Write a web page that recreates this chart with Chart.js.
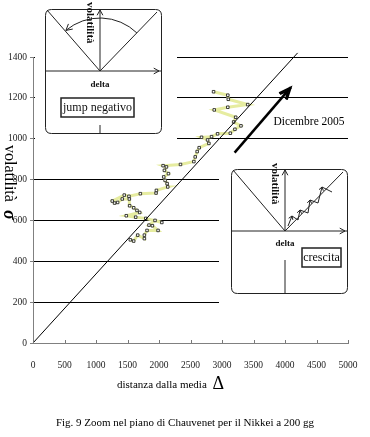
<!DOCTYPE html>
<html>
  <head>
    <script src="https://cdn.jsdelivr.net/npm/chart.js"></script>
    <style>
      body { margin: 0; padding: 0; background: #fff; }
      #wrap { width: 370px; height: 437px; }
      canvas { width: 370px !important; height: 437px !important; }
    </style>
  </head>
  <body>
    <div id="wrap"><canvas id="myChart" width="370" height="437"></canvas></div>
    <script>
      // distanza dalla media (delta) e volatilita (sigma)
      const deltaPts = [1545, 1598, 1662, 1768, 1768, 1810, 1985, 1895, 1841, 1937, 2045, 1790, 1630, 1481,
        1694, 1650, 1598, 1534, 1529, 1417, 1343, 1295, 1258, 1449, 1523, 1704, 1953, 1959, 2139, 2129,
        2097, 2075, 2150, 2086, 2118, 2065, 2341, 2553, 2575, 2606, 2638, 2792, 2771, 2675, 2834, 2930,
        3132, 3205, 3301, 3185, 3217, 2877, 3092, 3408, 3100, 3092, 2866];
      const sigmaPts = [505, 499, 528, 511, 528, 551, 551, 574, 577, 600, 590, 610, 616, 623,
        639, 649, 662, 672, 705, 705, 688, 685, 695, 724, 718, 731, 734, 747, 764, 780,
        796, 813, 829, 845, 862, 868, 874, 888, 911, 937, 956, 977, 994, 1007, 1010, 1024,
        1027, 1046, 1063, 1082, 1105, 1141, 1154, 1167, 1193, 1213, 1230];
      // retta di riferimento
      const lineDelta = [0, 4200];
      const lineSigma = [0, 1420];
      // freccia "Dicembre 2005"
      const arrowFrom = [3200, 932];
      const arrowTo = [4092, 1251];
      const xTicks = [0, 500, 1000, 1500, 2000, 2500, 3000, 3500, 4000, 4500, 5000];
      const yTicks = [0, 200, 400, 600, 800, 1000, 1200, 1400];

      const serif = '"Liberation Serif", "DejaVu Serif", serif';

      function arrowHead(ctx, x, y, ang, len, spread) {
        ctx.beginPath();
        ctx.moveTo(x - len * Math.cos(ang - spread), y - len * Math.sin(ang - spread));
        ctx.lineTo(x, y);
        ctx.lineTo(x - len * Math.cos(ang + spread), y - len * Math.sin(ang + spread));
        ctx.stroke();
      }

      function roundRect(ctx, x, y, w, h, r) {
        ctx.beginPath();
        ctx.moveTo(x + r, y);
        ctx.lineTo(x + w - r, y);
        ctx.quadraticCurveTo(x + w, y, x + w, y + r);
        ctx.lineTo(x + w, y + h - r);
        ctx.quadraticCurveTo(x + w, y + h, x + w - r, y + h);
        ctx.lineTo(x + r, y + h);
        ctx.quadraticCurveTo(x, y + h, x, y + h - r);
        ctx.lineTo(x, y + r);
        ctx.quadraticCurveTo(x, y, x + r, y);
        ctx.stroke();
      }

      // piccolo diagramma nel piano di Chauvenet
      function drawInset(ctx, ox, oy, kind) {
        ctx.save();
        ctx.translate(ox, oy);
        ctx.strokeStyle = '#222';
        ctx.lineWidth = 1;
        roundRect(ctx, 0.5, 0.5, 116, 124, 6);
        const cx = kind === 'jump' ? 55 : 54, cy = 62;
        ctx.beginPath();
        ctx.moveTo(0, cy); ctx.lineTo(116, cy);
        ctx.moveTo(cx, cy); ctx.lineTo(cx, 1);
        ctx.moveTo(cx, kind === 'jump' ? 116 : 91); ctx.lineTo(cx, 124);
        ctx.moveTo(cx, cy); ctx.lineTo(2, 1);
        ctx.moveTo(cx, cy); ctx.lineTo(112, 3);
        ctx.stroke();
        arrowHead(ctx, 114, cy, 0, 6, 0.5);
        arrowHead(ctx, cx, 1, -Math.PI / 2, 6, 0.5);
        if (kind === 'jump') {
          const a0 = -2.27, a1 = -0.8;
          ctx.beginPath();
          ctx.arc(cx, cy, 53, a0, a1);
          ctx.stroke();
          const ex = cx + 53 * Math.cos(a0), ey = cy + 53 * Math.sin(a0);
          arrowHead(ctx, ex, ey, a0 - Math.PI / 2, 7, 0.5);
        } else {
          const zig = [[57, 57], [59, 52], [61, 47], [67, 51], [69, 41], [77, 44], [79, 31], [87, 34], [91, 18], [101, 23]];
          ctx.beginPath();
          zig.forEach((p, i) => i ? ctx.lineTo(p[0], p[1]) : ctx.moveTo(p[0], p[1]));
          ctx.stroke();
          for (let i = 2; i < zig.length; i += 2) {
            const a = Math.atan2(zig[i][1] - zig[i - 1][1], zig[i][0] - zig[i - 1][0]);
            arrowHead(ctx, zig[i][0], zig[i][1], a, 4, 0.6);
          }
        }
        ctx.fillStyle = '#111';
        ctx.font = 'bold 11px ' + serif;
        ctx.save();
        ctx.translate(cx - 10, kind === 'jump' ? -7 : -6);
        ctx.rotate(Math.PI / 2);
        ctx.textAlign = 'left';
        ctx.textBaseline = 'middle';
        ctx.fillText('volatilità', 0, 0);
        ctx.restore();
        ctx.font = 'bold 9px ' + serif;
        ctx.textAlign = 'center';
        ctx.textBaseline = 'middle';
        ctx.fillText('delta', cx, kind === 'jump' ? 76 : 75);
        ctx.lineWidth = 1.5;
        ctx.font = '12px ' + serif;
        if (kind === 'jump') {
          ctx.strokeRect(16, 89, 73, 19);
          ctx.fillText('jump negativo', 52.5, 98.5);
        } else {
          ctx.strokeRect(71, 79, 39, 19);
          ctx.fillText('crescita', 90.5, 88.5);
        }
        ctx.restore();
      }

      const decor = {
        id: 'decor',
        afterDraw(chart) {
          const ctx = chart.ctx;
          const xs = chart.scales.x, ys = chart.scales.y;
          const bottom = ys.getPixelForValue(0);
          ctx.save();
          // tacche asse x
          ctx.strokeStyle = '#777';
          ctx.lineWidth = 1;
          ctx.beginPath();
          xTicks.forEach(v => {
            const px = Math.round(xs.getPixelForValue(v)) + 0.5;
            ctx.moveTo(px, bottom); ctx.lineTo(px, bottom - 3);
          });
          ctx.stroke();

          // fondi bianchi dei riquadri
          ctx.fillStyle = '#fff';
          ctx.fillRect(35, 0, 142, 146);
          ctx.fillRect(219, 163, 151, 142);
          drawInset(ctx, 45, 9, 'jump');
          drawInset(ctx, 231, 169, 'grow');

          // freccia Dicembre 2005
          const ax0 = xs.getPixelForValue(arrowFrom[0]), ay0 = ys.getPixelForValue(arrowFrom[1]);
          const ax1 = xs.getPixelForValue(arrowTo[0]), ay1 = ys.getPixelForValue(arrowTo[1]);
          ctx.strokeStyle = '#000';
          ctx.lineWidth = 2.5;
          ctx.beginPath();
          ctx.moveTo(ax0, ay0); ctx.lineTo(ax1, ay1);
          ctx.stroke();
          const ang = Math.atan2(ay1 - ay0, ax1 - ax0);
          ctx.lineWidth = 2;
          arrowHead(ctx, ax1, ay1, ang, 13, 0.4);
          arrowHead(ctx, ax1 - 4 * Math.cos(ang), ay1 - 4 * Math.sin(ang), ang, 9, 0.45);
          ctx.fillStyle = '#000';
          ctx.font = '11.5px ' + serif;
          ctx.textAlign = 'center';
          ctx.textBaseline = 'middle';
          ctx.fillText('Dicembre 2005', 309, 122);

          // titolo asse x
          ctx.font = '11px ' + serif;
          ctx.textAlign = 'left';
          ctx.textBaseline = 'alphabetic';
          const t1 = 'distanza dalla media ';
          ctx.fillText(t1, 117, 388);
          const w1 = ctx.measureText(t1).width;
          ctx.font = '18px ' + serif;
          ctx.fillText('Δ', 117 + w1 + 3, 389);

          // titolo asse y
          ctx.save();
          ctx.translate(5, 145);
          ctx.rotate(Math.PI / 2);
          ctx.font = '16px ' + serif;
          ctx.fillText('volatilità ', 0, 0);
          const w2 = ctx.measureText('volatilità ').width;
          ctx.font = 'bold italic 18px ' + serif;
          ctx.fillText('σ', w2 + 4, 1);
          ctx.restore();

          // didascalia
          ctx.font = '11px ' + serif;
          ctx.textAlign = 'center';
          ctx.fillText('Fig. 9 Zoom nel piano di Chauvenet per il Nikkei a 200 gg', 185, 426);
          ctx.restore();
        }
      };

      const pathData = deltaPts.map((d, i) => ({ x: d, y: sigmaPts[i] }));
      const lineData = lineDelta.map((d, i) => ({ x: d, y: lineSigma[i] }));

      const ctx = document.getElementById('myChart').getContext('2d');
      new Chart(ctx, {
        type: 'scatter',
        data: {
          datasets: [
            {
              data: lineData,
              showLine: true,
              borderColor: '#000',
              borderWidth: 1,
              pointRadius: 0,
              clip: false
            },
            {
              data: pathData,
              showLine: true,
              borderColor: '#e6eca0',
              borderWidth: 3,
              pointStyle: 'rect',
              pointRadius: 1.8,
              pointBackgroundColor: '#fff',
              pointBorderColor: '#111',
              pointBorderWidth: 0.8
            }
          ]
        },
        options: {
          responsive: false,
          animation: false,
          layout: { padding: { top: 57, right: 22, left: 0, bottom: 0 } },
          plugins: { legend: { display: false }, tooltip: { enabled: false } },
          scales: {
            x: {
              type: 'linear',
              min: 0, max: 5000,
              afterBuildTicks: s => { s.ticks = xTicks.map(v => ({ value: v })); },
              afterFit: s => { s.height = 94; },
              ticks: { padding: 9, color: '#222', font: { family: serif, size: 9.5 }, callback: v => String(v) },
              grid: { display: false },
              border: { color: '#808080', width: 1 }
            },
            y: {
              min: 0, max: 1400,
              afterBuildTicks: s => { s.ticks = yTicks.map(v => ({ value: v })); },
              afterFit: s => { s.width = 33; },
              ticks: { padding: 3, color: '#222', font: { family: serif, size: 9.5 }, callback: v => String(v) },
              grid: {
                color: c => (c.tick && c.tick.value === 0) ? '#808080' : '#000',
                tickColor: '#808080',
                tickLength: 3,
                lineWidth: 1
              },
              border: { color: '#808080', width: 1 }
            }
          }
        },
        plugins: [decor]
      });
    </script>
  </body>
</html>
